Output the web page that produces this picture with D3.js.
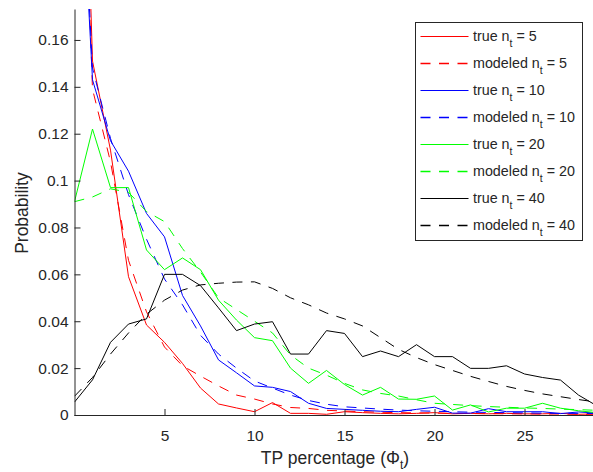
<!DOCTYPE html>
<html>
<head>
<meta charset="utf-8">
<script src="https://cdn.jsdelivr.net/npm/d3@7"></script>
<style>
body { margin: 0; background: #fff; }
text { font-family: "Liberation Sans", Arial, sans-serif; fill: #262626; }
</style>
</head>
<body>
<svg id="chart"></svg>
<script>
// TP percentage (x) and the probability curves
const pct = [0, 1, 2, 3, 4, 5, 6, 7, 8, 9, 10, 11, 12, 13, 14, 15, 16, 17, 18, 19, 20, 21, 22, 23, 24, 25, 26, 27, 28, 29];

const true5 = [0.40, 0.151, 0.113, 0.059, 0.0384, 0.031, 0.022, 0.0115, 0.0047, 0.003, 0.0014, 0.0053, 0.0007, 0.0007, 0.0003, 0.0014, 0.0010, 0.0007, 0.0005, 0.0007, 0.0010, 0.0005, 0.0007, 0.0005, 0.0007, 0.0005, 0.0005, 0.0007, 0.0003, 0.0005];
const model5 = [0.35, 0.139, 0.108, 0.066, 0.044, 0.029, 0.021, 0.0166, 0.0124, 0.0085, 0.0068, 0.0047, 0.0032, 0.0028, 0.002, 0.0017, 0.0014, 0.0012, 0.001, 0.0009, 0.0008, 0.0007, 0.0006, 0.0006, 0.0005, 0.0005, 0.0004, 0.0004, 0.0003, 0.0003];
const true10 = [0.29, 0.143, 0.117, 0.104, 0.086, 0.076, 0.051, 0.038, 0.0235, 0.018, 0.0124, 0.0118, 0.010, 0.005, 0.0028, 0.0024, 0.002, 0.0016, 0.0014, 0.0024, 0.0033, 0.0008, 0.0008, 0.0027, 0.0014, 0.0014, 0.0014, 0.0006, 0.0013, 0.0008];
const model10 = [0.30, 0.148, 0.118, 0.094, 0.075, 0.058, 0.047, 0.034, 0.026, 0.020, 0.0145, 0.0115, 0.0085, 0.0062, 0.0046, 0.0035, 0.003, 0.0025, 0.0021, 0.0018, 0.0016, 0.0014, 0.0012, 0.0011, 0.001, 0.0009, 0.0008, 0.0007, 0.0007, 0.0006];
const true20 = [0.091, 0.122, 0.097, 0.097, 0.0704, 0.062, 0.067, 0.062, 0.049, 0.0405, 0.033, 0.0317, 0.020, 0.0135, 0.019, 0.013, 0.0085, 0.0118, 0.0068, 0.0067, 0.0081, 0.0021, 0.0043, 0.0013, 0.0029, 0.0029, 0.005, 0.0029, 0.0018, 0.001];
const model20 = [0.091, 0.093, 0.0965, 0.095, 0.0868, 0.0825, 0.071, 0.061, 0.050, 0.045, 0.040, 0.035, 0.0256, 0.020, 0.017, 0.0135, 0.0107, 0.0092, 0.0081, 0.0065, 0.005, 0.0045, 0.004, 0.0036, 0.0033, 0.003, 0.0028, 0.0025, 0.0023, 0.002];
const true40 = [0.0055, 0.015, 0.031, 0.0388, 0.041, 0.060, 0.060, 0.0552, 0.0457, 0.036, 0.0388, 0.0398, 0.026, 0.026, 0.036, 0.0348, 0.0249, 0.0273, 0.0249, 0.030, 0.0249, 0.0249, 0.0199, 0.0199, 0.021, 0.0175, 0.016, 0.0149, 0.0085, 0.004];
const model40 = [0.008, 0.016, 0.026, 0.035, 0.043, 0.049, 0.0533, 0.0555, 0.0562, 0.0567, 0.0568, 0.054, 0.050, 0.047, 0.0435, 0.041, 0.038, 0.033, 0.028, 0.0245, 0.0215, 0.019, 0.0165, 0.0143, 0.0122, 0.0105, 0.009, 0.0078, 0.0066, 0.0055];

const nValues = [5, 10, 20, 40];
const xTickValues = [5, 10, 15, 20, 25];
const yTickValues = [0, 0.02, 0.04, 0.06, 0.08, 0.1, 0.12, 0.14, 0.16];
const yTickLabels = ["0", "0.02", "0.04", "0.06", "0.08", "0.1", "0.12", "0.14", "0.16"];

const width = 593, height = 472;
const colors = ["#ff0000", "#0000ff", "#00ff00", "#000000"];
const dash = "10,8.5";

const trueSeries = [true5, true10, true20, true40];
const modelSeries = [model5, model10, model20, model40];
const series = [];
nValues.forEach((n, k) => {
    series.push({ kind: "true", n: n, values: trueSeries[k], color: colors[k], dashed: false });
    series.push({ kind: "modeled", n: n, values: modelSeries[k], color: colors[k], dashed: true });
});

const svg = d3.select("#chart")
    .attr("width", width)
    .attr("height", height);

const x = d3.scaleLinear().domain([0, 29]).range([74.5, 74.5 + 18 * 29]);
const y = d3.scaleLinear().domain([0, 0.1732]).range([415, 9]);

svg.append("clipPath").attr("id", "plot-clip")
    .append("rect")
    .attr("x", 74.5).attr("y", 9)
    .attr("width", width - 74.5).attr("height", 406);

const line = d3.line()
    .x((d, i) => x(pct[i]))
    .y(d => y(d));

svg.append("g")
    .attr("clip-path", "url(#plot-clip)")
    .selectAll("path")
    .data(series)
    .enter()
    .append("path")
    .attr("d", d => line(d.values))
    .attr("fill", "none")
    .attr("stroke", d => d.color)
    .attr("stroke-width", 1)
    .attr("stroke-dasharray", d => d.dashed ? dash : null);

// axes, ticks pointing inward like MATLAB
const xAxis = svg.append("g")
    .attr("transform", "translate(0,415)")
    .call(d3.axisBottom(x).tickValues(xTickValues).tickSize(-6).tickSizeOuter(0).tickPadding(15));
xAxis.select(".domain").attr("d", "M74.5,0.5H593");

svg.append("g")
    .attr("transform", "translate(74.5,0)")
    .call(d3.axisLeft(y).tickValues(yTickValues)
        .tickFormat((d, i) => yTickLabels[i])
        .tickSize(-6).tickSizeOuter(0).tickPadding(6));

svg.selectAll(".tick text").attr("font-size", "15.5px").attr("font-family", null).attr("fill", "#262626");
svg.selectAll(".domain, .tick line").attr("stroke", "#262626");

// axis labels
const xLabel = svg.append("text")
    .attr("x", 335).attr("y", 464)
    .attr("text-anchor", "middle")
    .attr("font-size", "17.5px");
xLabel.append("tspan").text("TP percentage (\u03A6");
xLabel.append("tspan").attr("dy", 5).attr("font-size", "12px").text("t");
xLabel.append("tspan").attr("dy", -5).text(")");

svg.append("text")
    .attr("transform", "translate(28,213) rotate(-90)")
    .attr("text-anchor", "middle")
    .attr("font-size", "17.5px")
    .text("Probability");

// legend
const legend = svg.append("g");
legend.append("rect")
    .attr("x", 415.5).attr("y", 22.5)
    .attr("width", 167).attr("height", 218)
    .attr("fill", "#fff")
    .attr("stroke", "#262626")
    .attr("stroke-width", 1);

series.forEach((s, i) => {
    const ry = 36.5 + i * 27;
    legend.append("line")
        .attr("x1", 420.5).attr("x2", 468.5)
        .attr("y1", ry).attr("y2", ry)
        .attr("stroke", s.color)
        .attr("stroke-width", s.dashed ? 1.6 : 1.2)
        .attr("stroke-dasharray", s.dashed ? dash : null);

    const label = legend.append("text")
        .attr("x", 473).attr("y", ry + 4.5)
        .attr("font-size", "14.3px");
    label.append("tspan").text(s.kind + " n");
    label.append("tspan").attr("dy", 6).attr("font-size", "10.5px").text("t");
    label.append("tspan").attr("dy", -6).text(" = " + s.n);
});
</script>
</body>
</html>
